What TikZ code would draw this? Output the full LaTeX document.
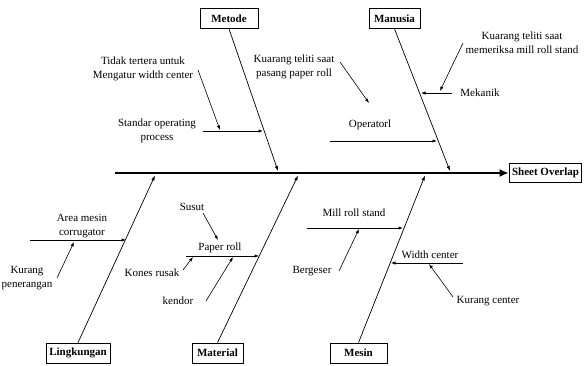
\documentclass[tikz,border=0pt]{standalone}
\usepackage{fontspec}
\setmainfont{Liberation Serif}
\usetikzlibrary{arrows.meta}
\begin{document}
\begin{tikzpicture}[x=1pt,y=-1pt,
  lbl/.style={font=\fontsize{11}{14}\selectfont, inner sep=1pt, align=center},
  cat/.style={draw, line width=0.8pt, font=\fontsize{11}{13}\selectfont\bfseries, minimum height=20pt, inner sep=1pt},
  spine/.style={line width=2.6pt, -{Latex[length=9pt,width=8pt]}},
  bone/.style={line width=0.7pt, -{Latex[length=5pt,width=3.5pt]}},
  sub/.style={line width=0.6pt, -{Latex[length=4.5pt,width=3.2pt]}}]
\useasboundingbox (0,0) rectangle (584,365);
% category boxes
\node[cat, minimum width=58pt] (metode) at (229,18.5) {Metode};
\node[cat, minimum width=51pt] (manusia) at (394.5,18.5) {Manusia};
\node[cat, minimum width=64pt] (ling) at (78,353) {Lingkungan};
\node[cat, minimum width=51pt] (material) at (217.5,353) {Material};
\node[cat, minimum width=57pt] (mesin) at (358.5,353) {Mesin};
\node[cat, line width=1.6pt, minimum width=72pt, minimum height=19pt] (so) at (545.5,173) {Sheet Overlap};
% spine
\coordinate (s0) at (115,173);
\draw[spine] (s0) -- (so.west);
% spine points
\coordinate (m1) at (278,171);
\coordinate (m2) at (450,171);
\coordinate (l1) at (155,175.5);
\coordinate (l2) at (298,175.5);
\coordinate (l3) at (425,175.5);
\draw[bone] (metode.south) -- (m1);
\draw[bone] (manusia.south) -- (m2);
\draw[bone] (ling.north) -- (l1);
\draw[bone] (material.north) -- (l2);
\draw[bone] (mesin.north) -- (l3);
% Metode causes
\node[lbl] (t1) at (143,69) {Tidak tertera untuk\\Mengatur width center};
\node[lbl] (t2) at (157,131) {Standar operating\\process};
\node[lbl] (t3) at (294,67) {Kuarang teliti saat\\pasang paper roll};
\node[lbl] (t4) at (370,125) {Operatorl};
\node[lbl] (t5) at (522,43) {Kuarang teliti saat\\memeriksa mill roll stand};
\node[lbl] (t6) at (480,93) {Mekanik};
\coordinate (a1s) at (198,70); \coordinate (a1e) at (220,130);
\coordinate (a2s) at (203,131); \coordinate (a2e) at (263,131);
\coordinate (a3s) at (340,62); \coordinate (a3e) at (369,103);
\coordinate (a4s) at (330,141); \coordinate (a4e) at (437,141);
\coordinate (a5s) at (463,43); \coordinate (a5e) at (440,91);
\coordinate (a6s) at (452,93); \coordinate (a6e) at (421,93);
\draw[sub] (a1s) -- (a1e);
\draw[sub] (a2s) -- (a2e);
\draw[sub] (a3s) -- (a3e);
\draw[sub] (a4s) -- (a4e);
\draw[sub] (a5s) -- (a5e);
\draw[sub] (a6s) -- (a6e);
% lower causes
\node[lbl] (b1) at (82,226) {Area mesin\\corrugator};
\node[lbl] (b2) at (27,278) {Kurang\\penerangan};
\node[lbl] (b3) at (192,207) {Susut};
\node[lbl] (b4) at (220,248) {Paper roll};
\node[lbl] (b5) at (152,273) {Kones rusak};
\node[lbl] (b6) at (178,301) {kendor};
\node[lbl] (b7) at (354,213) {Mill roll stand};
\node[lbl] (b8) at (312,271) {Bergeser};
\node[lbl] (b9) at (430,255) {Width center};
\node[lbl] (b10) at (488,301) {Kurang center};
\coordinate (c1s) at (30,240); \coordinate (c1e) at (126,240);
\coordinate (c2s) at (57,278); \coordinate (c2e) at (74,242);
\coordinate (c3s) at (203,213); \coordinate (c3e) at (218,240);
\coordinate (c4s) at (186,256); \coordinate (c4e) at (259,256);
\coordinate (c5s) at (183,270); \coordinate (c5e) at (193,257);
\coordinate (c6s) at (206,301); \coordinate (c6e) at (233,257);
\coordinate (c7s) at (307,228); \coordinate (c7e) at (403,228);
\coordinate (c8s) at (339,271); \coordinate (c8e) at (359,229);
\coordinate (c9s) at (463,263); \coordinate (c9e) at (391,263);
\coordinate (c10s) at (453,297); \coordinate (c10e) at (429,264);
\foreach \i in {1,...,10} {\draw[sub] (c\i s) -- (c\i e);}
\end{tikzpicture}
\end{document}
